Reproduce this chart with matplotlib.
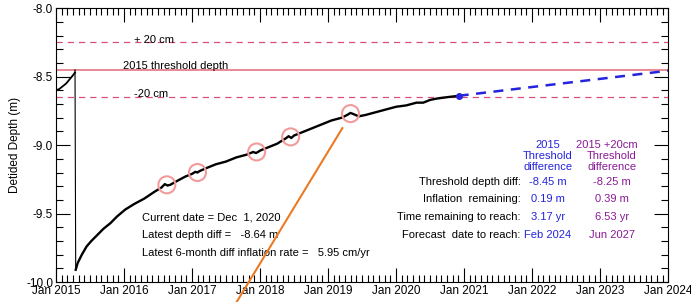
import numpy as np
import matplotlib.pyplot as plt

# depth record (decimal year, detided depth in m)
t_pre = [2015.00, 2015.05, 2015.10, 2015.15, 2015.20, 2015.25, 2015.28]
d_pre = [-8.60, -8.59, -8.57, -8.55, -8.52, -8.49, -8.47]

t_post = [2015.29, 2015.32, 2015.38, 2015.45, 2015.52, 2015.60, 2015.70, 2015.80,
          2015.90, 2016.02, 2016.15, 2016.30, 2016.45, 2016.55, 2016.60, 2016.64,
          2016.68, 2016.75, 2016.90, 2017.00, 2017.05, 2017.08, 2017.11, 2017.20,
          2017.35, 2017.50, 2017.65, 2017.80, 2017.90, 2017.94, 2017.97, 2018.00,
          2018.10, 2018.25, 2018.38, 2018.42, 2018.46, 2018.50, 2018.60, 2018.75,
          2018.90, 2019.05, 2019.20, 2019.28, 2019.33, 2019.38, 2019.45, 2019.55,
          2019.70, 2019.85, 2020.00, 2020.15, 2020.30, 2020.40, 2020.50, 2020.60,
          2020.75, 2020.92]
d_post = [-9.91, -9.86, -9.80, -9.74, -9.70, -9.66, -9.61, -9.57,
          -9.52, -9.47, -9.43, -9.39, -9.34, -9.31, -9.285, -9.295,
          -9.29, -9.27, -9.23, -9.21, -9.195, -9.20, -9.19, -9.17,
          -9.14, -9.12, -9.09, -9.07, -9.05, -9.058, -9.05, -9.04,
          -9.02, -8.99, -8.95, -8.935, -8.948, -8.93, -8.91, -8.88,
          -8.85, -8.82, -8.80, -8.78, -8.765, -8.775, -8.79, -8.78,
          -8.76, -8.74, -8.72, -8.71, -8.69, -8.69, -8.67, -8.66,
          -8.65, -8.64]

# highlighted episodes
circ_t = [2016.63, 2017.08, 2017.95, 2018.45, 2019.33]
circ_d = [-9.29, -9.20, -9.05, -8.94, -8.77]

current_t = 2020.92
current_d = -8.64
rate = 0.0595  # m/yr
threshold = -8.45
forecast_t = [current_t, 2024.0]
forecast_d = [current_d, current_d + rate * (2024.0 - current_t)]

orange_t = [2017.65, 2019.21]
orange_d = [-10.15, -8.876]

years = list(range(2015, 2025))
year_labels = ['Jan %d' % y for y in years]

plt.rcParams['font.family'] = ['Liberation Sans', 'DejaVu Sans']
fig = plt.figure(figsize=(6.91, 3.02), dpi=100)
ax = fig.add_axes([0.081, 0.066, 0.886, 0.907])

blue = '#2424dc'
purple = '#8a1a96'
pink = '#d8507a'

ax.axhline(threshold + 0.2, color=pink, ls=(0, (5, 4)), lw=0.9)
ax.axhline(threshold - 0.2, color=pink, ls=(0, (5, 4)), lw=0.9)
ax.axhline(threshold, color='#e8808c', lw=1.3)

ax.plot(t_pre, d_pre, color='black', lw=1.3)
ax.plot([t_pre[-1], t_post[0]], [threshold, d_post[0]], color='black', lw=0.8)
ax.plot(t_post, d_post, color='black', lw=1.7)
ax.plot(forecast_t, forecast_d, color=blue, lw=1.8, ls=(0, (4, 3)))
ax.plot([current_t], [current_d], 'o', color=blue, ms=4)
ax.scatter(circ_t, circ_d, s=150, facecolors='none', edgecolors='#f29b9b', lw=1.5, zorder=5)
ax.plot(orange_t, orange_d, color='#ec7a24', lw=1.5, clip_on=False, zorder=6)

fs = 8
ax.text(2016.14, -8.235, '+ 20 cm', fontsize=fs, va='center')
ax.text(2015.99, -8.425, '2015 threshold depth', fontsize=fs, va='center')
ax.text(2016.14, -8.625, '-20 cm', fontsize=fs, va='center')

ax.text(2016.27, -9.525, 'Current date = Dec  1, 2020', fontsize=fs, va='center')
ax.text(2016.27, -9.655, 'Latest depth diff =   -8.64 m', fontsize=fs, va='center')
ax.text(2016.27, -9.788, 'Latest 6-month diff inflation rate =   5.95 cm/yr', fontsize=fs, va='center')

lx = 2015 + (520 - 56) / 67.9
bx = 2015 + (547 - 56) / 67.9
px = 2015 + (611 - 56) / 67.9
rows = ['Threshold depth diff:', 'Inflation  remaining:', 'Time remaining to reach:',
        'Forecast  date to reach:']
blue_vals = ['-8.45 m', '0.19 m', '3.17 yr', 'Feb 2024']
purple_vals = ['-8.25 m', '0.39 m', '6.53 yr', 'Jun 2027']
row_y = [-9.27, -9.395, -9.525, -9.655]
for lab, bv, pv, y in zip(rows, blue_vals, purple_vals, row_y):
    ax.text(lx, y, lab, fontsize=fs, ha='right', va='center')
    ax.text(bx, y, bv, fontsize=fs, ha='center', va='center', color=blue)
    ax.text(px, y, pv, fontsize=fs, ha='center', va='center', color=purple)

# column headers, one line at a time
head_y = [-8.998, -9.078, -9.158]
for txt, y in zip(['2015', 'Threshold', 'difference'], head_y):
    ax.text(bx, y, txt, fontsize=fs, ha='center', va='center', color=blue)
for txt, y, dx in zip(['2015 +20cm', 'Threshold', 'difference'], head_y, [-0.08, 0, 0]):
    ax.text(px + dx, y, txt, fontsize=fs, ha='center', va='center', color=purple)

ax.set_xlim(2015, 2024)
ax.set_ylim(-10.0, -8.0)
ax.set_xticks(years)
ax.set_xticklabels(year_labels)
ax.set_xticks(np.arange(2015, 2024, 1 / 12), minor=True)
ax.set_yticks([-10.0, -9.5, -9.0, -8.5, -8.0])
ax.set_yticklabels(['-10.0', '-9.5', '-9.0', '-8.5', '-8.0'])
ax.set_yticks(np.arange(-10.0, -7.95, 0.1), minor=True)
ax.tick_params(which='both', direction='in', top=True, right=True, labelsize=8.5,
               width=0.8, pad=2)
ax.tick_params(which='major', length=10)
ax.tick_params(which='minor', length=5)
ax.set_ylabel('Detided Depth (m)', fontsize=8.5, labelpad=4)
for s in ax.spines.values():
    s.set_linewidth(0.8)

fig.savefig('out.png', dpi=100)
